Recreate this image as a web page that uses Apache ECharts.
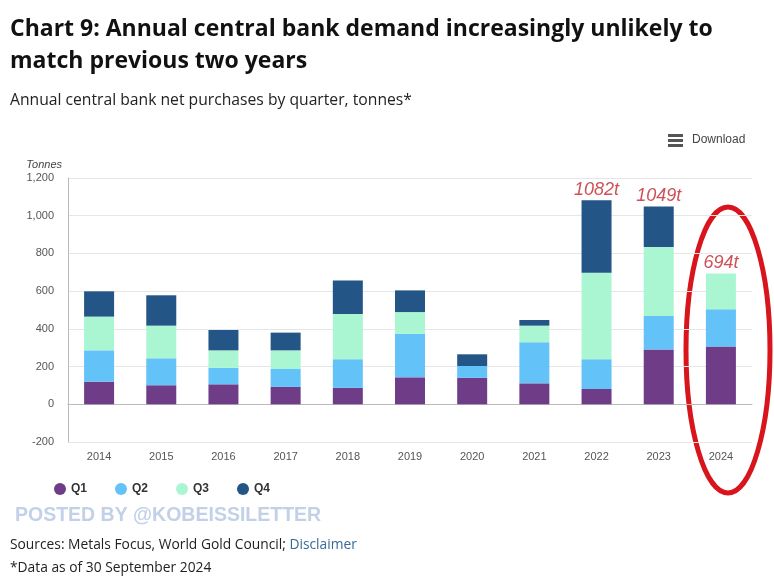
<!DOCTYPE html>
<html><head><meta charset="utf-8">
<script src="https://cdn.jsdelivr.net/npm/echarts@6/dist/echarts.min.js"></script>
<style>html,body{margin:0;padding:0;background:#fff}#c{width:774px;height:586px}</style>
</head><body><div id="c"></div>
<script>
var years = ['2014','2015','2016','2017','2018','2019','2020','2021','2022','2023','2024'];
var q1 = [120, 101, 106, 92, 87, 143, 140, 111, 81, 290, 306];
var q2 = [166, 143, 88, 95, 152, 230, 63, 218, 158, 178, 198];
var q3 = [179, 173, 92, 99, 240, 116, null, 88, 459, 366, 190];
var q4 = [134, 161, 108, 94, 178, 115, 62, 30, 384, 215, null];
var totalLabels = [null, null, null, null, null, null, null, null, 1082, 1049, 694];
var yTicks = [-200, 0, 200, 400, 600, 800, 1000, 1200];

var chart = echarts.init(document.getElementById('c'), null, {renderer:'canvas'});
var font = '"Open Sans", "Noto Sans", sans-serif';
function bar(name, data, color){
  return {name:name, type:'bar', stack:'t', data:data, barWidth:30,
    itemStyle:{color:color}, emphasis:{disabled:true}};
}
chart.setOption({
  animation:false,
  textStyle:{fontFamily:'"Liberation Sans", Arial, sans-serif'},
  grid:{left:68, right:22, top:178, bottom:144, containLabel:false},
  legend:{
    left:49, top:478, itemWidth:12, itemHeight:12, itemGap:28, icon:'circle',
    textStyle:{fontSize:12, color:'#333', fontWeight:'bold', fontFamily:'"Liberation Sans", Arial, sans-serif'},
    data:['Q1','Q2','Q3','Q4']
  },
  xAxis:{type:'category', data:years,
    axisLine:{show:true, lineStyle:{color:'#bbb'}}, axisTick:{show:false},
    axisLabel:{color:'#555', fontSize:11, margin:9}},
  yAxis:{type:'value', min:yTicks[0], max:yTicks[yTicks.length-1], interval:200,
    name:'Tonnes', nameLocation:'end', nameGap:8,
    nameTextStyle:{fontStyle:'italic', color:'#444', fontSize:11, align:'right', padding:[0,6,0,0]},
    axisLine:{show:true, lineStyle:{color:'#bbb'}}, axisTick:{show:false},
    axisLabel:{color:'#555', fontSize:11, margin:14, formatter:function(v){return v.toLocaleString('en-US');}},
    splitLine:{lineStyle:{color:'#e6e6e6'}}},
  series:[
    bar('Q1', q1, '#6f3d88'),
    bar('Q2', q2, '#63c2f7'),
    bar('Q3', q3, '#aaf6d2'),
    bar('Q4', q4, '#235586'),
    {type:'scatter', data:totalLabels, symbolSize:0, silent:true,
      label:{show:true, position:'top', distance:1, formatter:function(p){return p.value+'t';},
        color:'#c0262d', fontStyle:'italic', fontSize:18, fontFamily:'"Liberation Sans", Arial, sans-serif'}}
  ],
  graphic:[
    {type:'text', left:10, top:13, style:{text:'Chart 9: Annual central bank demand increasingly unlikely to\nmatch previous two years', font:'bold 23px '+font, fill:'#111', lineHeight:32}},
    {type:'text', left:10, top:93, style:{text:'Annual central bank net purchases by quarter, tonnes*', font:'15.7px '+font, fill:'#222'}},
    {type:'rect', left:668, top:134, shape:{width:15, height:3}, style:{fill:'#555'}},
    {type:'rect', left:668, top:139, shape:{width:15, height:3}, style:{fill:'#555'}},
    {type:'rect', left:668, top:144, shape:{width:15, height:3}, style:{fill:'#555'}},
    {type:'text', left:692, top:134, style:{text:'Download', font:'12px "Liberation Sans", Arial, sans-serif', fill:'#444'}},
    {type:'ellipse', shape:{cx:728, cy:350, rx:42, ry:143}, style:{fill:null, stroke:'#d8141c', lineWidth:5}},
    {type:'text', left:15, top:506, style:{text:'POSTED BY @KOBEISSILETTER', font:'bold 19.5px "Liberation Sans", Arial, sans-serif', fill:'#c2d0e8'}},
    {type:'text', left:10, top:538, style:{text:'{a|Sources: Metals Focus, World Gold Council; }{b|Disclaimer}', rich:{a:{font:'13.8px '+font, fill:'#222'}, b:{font:'13.8px '+font, fill:'#3a6a96'}}}},
    {type:'text', left:10, top:561, style:{text:'*Data as of 30 September 2024', font:'13.8px '+font, fill:'#222'}}
  ]
});
</script></body></html>
